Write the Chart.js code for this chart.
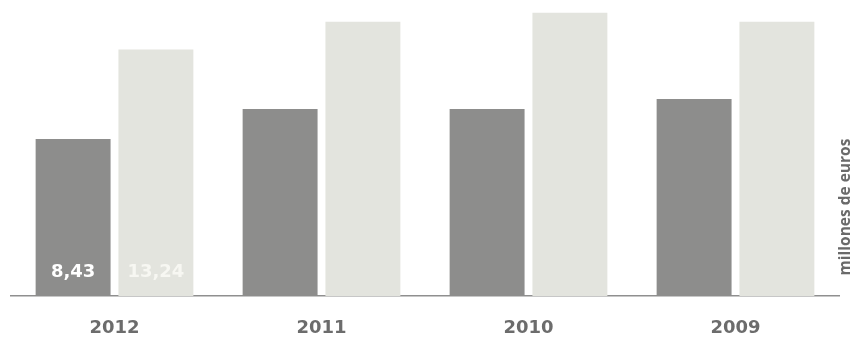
<!DOCTYPE html>
<html>
<head>
<meta charset="utf-8">
<style>
  html, body { margin: 0; padding: 0; background: #ffffff; overflow: hidden; }
  canvas { display: block; }
</style>
<script src="https://cdn.jsdelivr.net/npm/chart.js@4/dist/chart.umd.min.js"></script>
</head>
<body>
<canvas id="chart" width="859" height="343"></canvas>
<script>
// Years shown along the axis
const categories = ['2012', '2011', '2010', '2009'];
// Two series per year, in millones de euros
const seriesDark = [8.43, 10.04, 10.04, 10.58];
const seriesLight = [13.24, 14.73, 15.21, 14.73];
// Year whose bars carry a printed value
const labeledCategory = '2012';
const axisTitle = 'millones de euros';

const fmt = v => v.toFixed(2).replace('.', ',');

// Prints the value inside the lower part of each bar of the labelled year
const barValueLabels = {
  id: 'barValueLabels',
  afterDatasetsDraw(chart) {
    const ctx = chart.ctx;
    const idx = chart.data.labels.indexOf(labeledCategory);
    if (idx < 0) return;
    const colors = ['#ffffff', '#f7f7f2'];
    chart.data.datasets.forEach((ds, di) => {
      const bar = chart.getDatasetMeta(di).data[idx];
      ctx.save();
      ctx.font = 'bold 18px "DejaVu Sans", sans-serif';
      ctx.fillStyle = colors[di];
      ctx.textAlign = 'center';
      ctx.textBaseline = 'middle';
      ctx.fillText(fmt(ds.data[idx]), bar.x, bar.base - 24);
      ctx.restore();
    });
  }
};

// Vertical unit caption on the right edge, reading bottom to top
const unitCaption = {
  id: 'unitCaption',
  afterDraw(chart) {
    const ctx = chart.ctx;
    const area = chart.chartArea;
    ctx.save();
    ctx.translate(area.right + 7, area.bottom - 89);
    ctx.rotate(-Math.PI / 2);
    ctx.font = 'bold 15.5px "Open Sans", sans-serif';
    ctx.fillStyle = '#6a6a6a';
    ctx.textAlign = 'center';
    ctx.textBaseline = 'middle';
    ctx.fillText(axisTitle, 0, 0);
    ctx.restore();
  }
};

new Chart(document.getElementById('chart'), {
  type: 'bar',
  data: {
    labels: categories,
    datasets: [
      { data: seriesDark, backgroundColor: '#8d8d8c', categoryPercentage: 0.80, barPercentage: 0.905 },
      { data: seriesLight, backgroundColor: '#e3e4de', categoryPercentage: 0.80, barPercentage: 0.905 }
    ]
  },
  options: {
    responsive: false,
    animation: false,
    devicePixelRatio: 1,
    layout: { padding: { left: 11, right: 20, top: 0, bottom: 0 } },
    plugins: { legend: { display: false }, tooltip: { enabled: false } },
    scales: {
      x: {
        grid: { display: false, drawTicks: false },
        border: { display: true, color: '#8f8f8f', width: 1.5 },
        afterFit(scale) { scale.height = 47; },
        ticks: {
          padding: 22,
          color: '#6c6c6c',
          font: { family: '"DejaVu Sans", sans-serif', size: 18, weight: 'bold' }
        }
      },
      y: {
        display: false,
        min: 0,
        max: 15.9
      }
    }
  },
  plugins: [barValueLabels, unitCaption]
});
</script>
</body>
</html>
